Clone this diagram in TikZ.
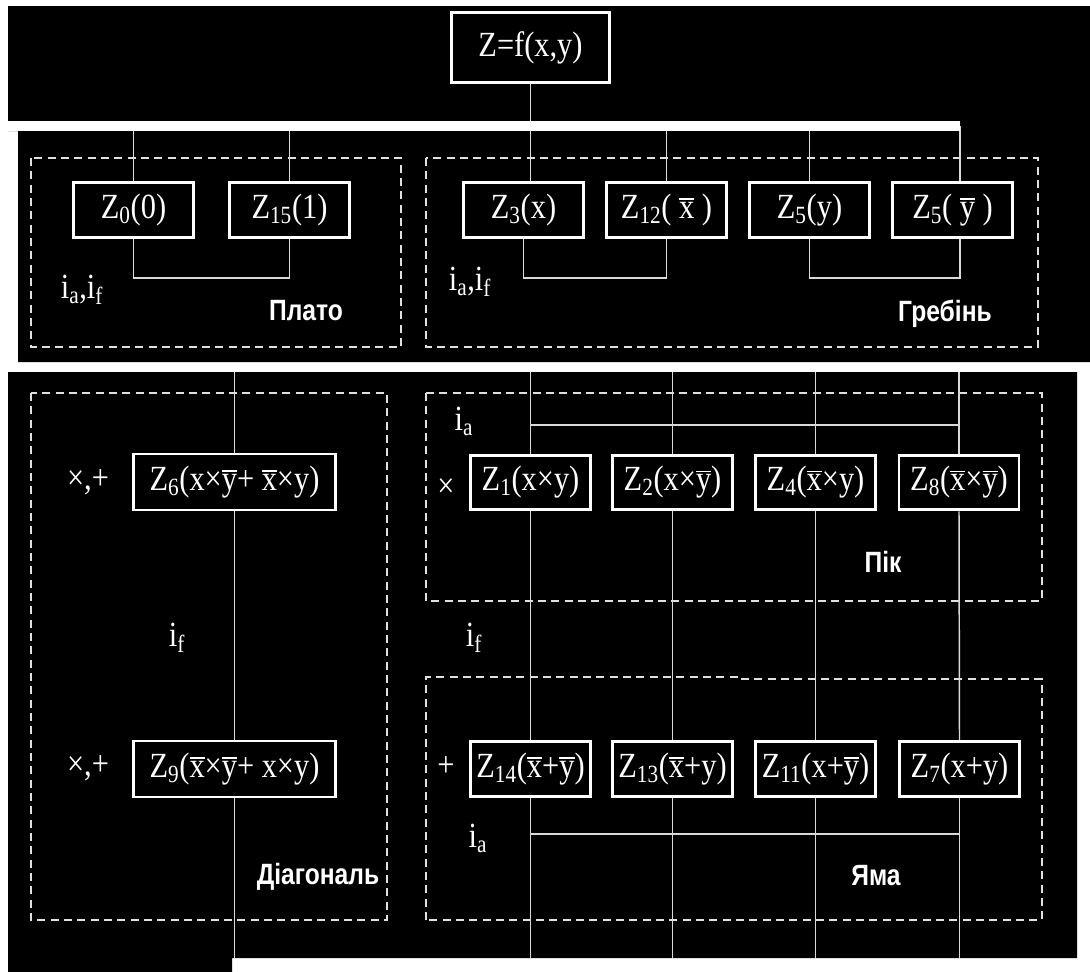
\documentclass[tikz,border=0pt]{standalone}
\usepackage{fontspec}
\setmainfont{Liberation Serif}[FakeStretch=0.86]
\newfontfamily\labfont{Liberation Sans}[FakeStretch=0.84]
\newsavebox\obbox
\newcommand\ob[1]{\sbox\obbox{#1}\rlap{\raisebox{\dimexpr\ht\obbox+2pt\relax}{\rule{\wd\obbox}{1.1pt}}}\usebox\obbox}
\newcommand\sbs[1]{\textsubscript{#1}}
\begin{document}
\begin{tikzpicture}[x=0.75pt,y=-0.75pt,
  zbox/.style={draw=white, line width=2.2pt, fill=black, text=white, inner sep=0pt,
    minimum width=90pt, minimum height=41pt, font=\fontsize{26.5}{28}\selectfont},
  wire/.style={draw=white!85!black, line width=1.1pt},
  busline/.style={draw=white, line width=7.5pt},
  dbox/.style={draw=white!88!black, line width=1.4pt, dash pattern=on 6pt off 4pt},
  lbl/.style={text=white, inner sep=0pt, font=\fontsize{26.5}{28}\selectfont},
  grp/.style={text=white, inner sep=0pt, font=\labfont\bfseries\fontsize{22}{24}\selectfont}]
\useasboundingbox (0,0) rectangle (1090,972);
% background
\fill[white] (0,0) rectangle (1090,972);
\fill[black] (8,6) -- (1090,6) -- (1090,362) -- (18,362) -- (18,131) -- (8,131) -- cycle;
\fill[black] (8,372) -- (1077,372) -- (1077,958) -- (232,958) -- (232,972) -- (8,972) -- cycle;

% dashed groups
\draw[dbox] (31,158) rectangle (401,347);
\draw[dbox] (426,158) rectangle (1038,347);
\draw[dbox] (31,393) rectangle (387,920);
\draw[dbox] (426,393) rectangle (1042,601);
\draw[dbox] (426,920) -- (426,677) -- (740,677) -- (740,679) -- (1042,679) -- (1042,920) -- cycle;

% boxes
\node[zbox, minimum width=119pt, minimum height=52pt] (top) at (530.5,47.5) {Z=f(x,y)};
\node[zbox] (z0) at (133.5,210) {Z\sbs{0}(0)};
\node[zbox] (z15) at (289.5,210) {Z\sbs{15}(1)};
\node[zbox] (z3) at (523.5,210) {Z\sbs{3}(x)};
\node[zbox] (z12) at (666.5,210) {Z\sbs{12}( \ob{x} )};
\node[zbox] (z5a) at (809.5,210) {Z\sbs{5}(y)};
\node[zbox] (z5b) at (952.5,210) {Z\sbs{5}( \ob{y} )};

\node[zbox, minimum width=152pt, minimum height=42pt] (z6) at (234.5,482) {Z\sbs{6}(x×\ob{y}+ \ob{x}×y)};
\node[zbox, minimum width=152pt, minimum height=42pt] (z9) at (234.5,769) {Z\sbs{9}(\ob{x}×\ob{y}+ x×y)};

\node[zbox] (z1) at (530.5,482.5) {Z\sbs{1}(x×y)};
\node[zbox] (z2) at (672.5,482.5) {Z\sbs{2}(x×\ob{y})};
\node[zbox] (z4) at (815.5,482.5) {Z\sbs{4}(\ob{x}×y)};
\node[zbox] (z8) at (959,482.5) {Z\sbs{8}(\ob{x}×\ob{y})};

\node[zbox] (z14) at (530.5,769) {Z\sbs{14}(\ob{x}+\ob{y})};
\node[zbox] (z13) at (672.5,769) {Z\sbs{13}(\ob{x}+y)};
\node[zbox] (z11) at (815.5,769) {Z\sbs{11}(x+\ob{y})};
\node[zbox] (z7) at (959.5,769) {Z\sbs{7}(x+y)};

% helper coordinates
\coordinate (busL) at (8,126);
\coordinate (busR) at (960,126);
\coordinate (r3top) at (0,372);
\coordinate (bot) at (0,958);
\coordinate (iaT) at (0,425);
\coordinate (iaB) at (0,834);

% upper connectors
\draw[wire] (top.south) -- (top.south |- z3.north);
\draw[wire] (busL -| z0.north) -- (z0.north);
\draw[wire] (busL -| z15.north) -- (z15.north);
\draw[wire] (busL -| z12.north) -- (z12.north);
\draw[wire] (busL -| z5a.north) -- (z5a.north);
\draw[wire] (busR) -- (busR |- z5b.north);
\draw[busline] (busL) -- (busR);
\draw[wire] (z0.south) -- ++(0,39) -| (z15.south);
\draw[wire] (z3.south) -- ++(0,39) -| (z12.south);
\draw[wire] (z5a.south) -- ++(0,39) -| (z5b.south -| busR);

% lower connectors
\draw[wire] (z6.north |- r3top) -- (z6.north);
\draw[wire] (z6.south) -- (z9.north);
\draw[wire] (z9.south) -- (z9.south |- bot);
\foreach \u/\d in {z1/z14, z2/z13, z4/z11, z8/z7} {
  \draw[wire] (\u.north |- r3top) -- (\u.north);
  \draw[wire] (\u.south) -- (\d.north);
  \draw[wire] (\d.south) -- (\d.south |- bot);
}
\draw[wire] (z1.north |- iaT) -- (z8.north |- iaT);
\draw[wire] (z14.south |- iaB) -- (z7.south |- iaB);

% labels
\node[lbl] (l1) at (82,290) {i\sbs{a},i\sbs{f}};
\node[grp] (g1) at (306,311) {Плато};
\node[lbl] (l2) at (470,282) {i\sbs{a},i\sbs{f}};
\node[grp] (g2) at (945,314) {Гребінь};
\node[lbl] (l3) at (88,482) {×,+};
\node[lbl] (l4) at (88,768) {×,+};
\node[lbl] (l5) at (177,638) {i\sbs{f}};
\node[grp] (g3) at (318,877) {Діагональ};
\node[lbl] (l6) at (464,421) {i\sbs{a}};
\node[lbl] (l7) at (446,488) {×};
\node[grp] (g4) at (883,562) {Пік};
\node[lbl] (l8) at (474,638) {i\sbs{f}};
\node[lbl] (l9) at (446,767) {+};
\node[lbl] (l10) at (478,838) {i\sbs{a}};
\node[grp] (g5) at (876,876) {Яма};
\end{tikzpicture}
\end{document}
